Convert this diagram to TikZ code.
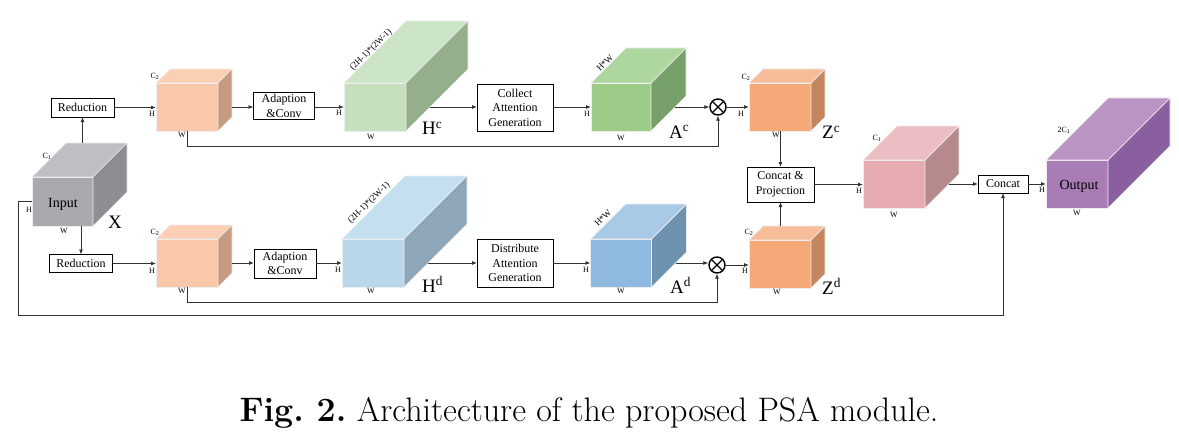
\documentclass[tikz,border=0pt]{standalone}
\usepackage{fontspec}
\newfontfamily\tnr{Liberation Serif}
\usetikzlibrary{arrows.meta,calc}

\definecolor{faceline}{HTML}{EEEEEE}
\definecolor{linegray}{HTML}{333333}
% cube colours: front, top, side
\definecolor{grayf}{HTML}{A9AAAE}\definecolor{grayt}{HTML}{BEBFC3}\definecolor{grays}{HTML}{8D8E92}
\definecolor{peachf}{HTML}{F9C7A9}\definecolor{peacht}{HTML}{FACFB4}\definecolor{peachs}{HTML}{C59C82}
\definecolor{lgreenf}{HTML}{C6E0BF}\definecolor{lgreent}{HTML}{CDE5C7}\definecolor{lgreens}{HTML}{95AE8B}
\definecolor{greenf}{HTML}{9DCB88}\definecolor{greent}{HTML}{AED7A0}\definecolor{greens}{HTML}{78A06B}
\definecolor{orangef}{HTML}{F5A979}\definecolor{oranget}{HTML}{F6BD98}\definecolor{oranges}{HTML}{C4865F}
\definecolor{pinkf}{HTML}{E5ABB1}\definecolor{pinkt}{HTML}{ECBEC3}\definecolor{pinks}{HTML}{B48A8D}
\definecolor{purplef}{HTML}{A97CB5}\definecolor{purplet}{HTML}{BA94C3}\definecolor{purples}{HTML}{8A5FA0}
\definecolor{lbluef}{HTML}{B9D6EB}\definecolor{lbluet}{HTML}{C4DFEF}\definecolor{lblues}{HTML}{8EA6B8}
\definecolor{bluef}{HTML}{8EBADF}\definecolor{bluet}{HTML}{A8CAE6}\definecolor{blues}{HTML}{6C92AF}

% name, centre, width, height, depth, front, top, side
\newcommand{\blockcube}[8]{%
  \node[cubeface, fill=#6, minimum width=#3pt, minimum height=#4pt] (#1) at (#2) {};
  \coordinate (#1-tl) at ($(#1.north west)+(#5,-#5)$);
  \coordinate (#1-tr) at ($(#1.north east)+(#5,-#5)$);
  \coordinate (#1-br) at ($(#1.south east)+(#5,-#5)$);
  \filldraw[cubeedge, fill=#7] (#1.north west) -- (#1-tl) -- (#1-tr) -- (#1.north east) -- cycle;
  \filldraw[cubeedge, fill=#8] (#1.north east) -- (#1-tr) -- (#1-br) -- (#1.south east) -- cycle;
  \pgfmathsetmacro\cubeout{min(#5,#4/2)}%
  \coordinate (#1-out) at ($(#1.east)+(\cubeout,0)$);
}

\begin{document}
\begin{tikzpicture}[x=1pt, y=-1pt,
    cubeface/.style={draw=faceline, line width=0.7pt, inner sep=0pt, outer sep=0pt},
    cubeedge/.style={draw=faceline, line width=0.7pt, line join=round},
    opbox/.style={draw=black, line width=0.8pt, fill=white, inner sep=0pt, outer sep=0pt,
        align=center, font=\tnr\fontsize{12}{14.5}\selectfont},
    arr/.style={draw=linegray, line width=0.8pt, -{Latex[length=5pt, width=4pt]}},
    dimlbl/.style={inner sep=0pt, font=\tnr\fontsize{8}{8}\selectfont},
    slopelbl/.style={inner sep=0pt, rotate=45, font=\tnr\fontsize{9}{9}\selectfont},
    biglbl/.style={inner sep=0pt, anchor=base west, font=\tnr\fontsize{19}{19}\selectfont},
    cubetext/.style={inner sep=0pt, font=\tnr\fontsize{14}{14}\selectfont},
    mult/.style={circle, draw=black, line width=1.4pt, minimum size=16pt, inner sep=0pt,
        path picture={\draw[line width=1.4pt]
            (path picture bounding box.north west) -- (path picture bounding box.south east)
            (path picture bounding box.south west) -- (path picture bounding box.north east);}}]
    \useasboundingbox (0,0) rectangle (1179,444);

    % input
    \blockcube{input}{62.5,201.5}{61}{49}{34}{grayf}{grayt}{grays}
    \node[cubetext] (inputtxt) at (63,204) {Input};
    \node[dimlbl] (inputc) at (47,156) {C\textsubscript{1}};
    \node[dimlbl] (inputh) at (29,210) {H};
    \node[dimlbl] (inputw) at (64,231) {W};
    \node[biglbl] (inputx) at (108,228) {X};

    % upper branch
    \node[opbox, minimum width=63pt, minimum height=19pt] (redup) at (82.5,107.5) {Reduction};
    \blockcube{c2up}{187,107}{62}{48}{14}{peachf}{peacht}{peachs}
    \node[dimlbl] (c2upc) at (155,76) {C\textsubscript{2}};
    \node[dimlbl] (c2uph) at (152,114) {H};
    \node[dimlbl] (c2upw) at (182,135) {W};
    \node[opbox, minimum width=61pt, minimum height=27pt] (adup) at (284,106) {Adaption\\\&Conv};
    \blockcube{hc}{375,107}{62}{48}{62}{lgreenf}{lgreent}{lgreens}
    \node[slopelbl] (hcdim) at (371,50) {(2H-1)*(2W-1)};
    \node[dimlbl] (hch) at (339,113) {H};
    \node[dimlbl] (hcw) at (371,137) {W};
    \node[biglbl] (hclbl) at (422,135) {H\textsuperscript{c}};
    \node[opbox, minimum width=76pt, minimum height=47pt] (collect) at (515,107.5) {Collect\\Attention\\Generation};
    \blockcube{ac}{621,107}{60}{48}{35}{greenf}{greent}{greens}
    \node[slopelbl] (acdim) at (605,63) {H*W};
    \node[dimlbl] (ach) at (587,114) {H};
    \node[dimlbl] (acw) at (621,138) {W};
    \node[biglbl] (aclbl) at (669,138) {A\textsuperscript{c}};
    \node[mult] (mulc) at (718,107) {};
    \blockcube{zc}{780,107}{62}{48}{14}{orangef}{oranget}{oranges}
    \node[dimlbl] (zcc) at (746,77) {C\textsubscript{2}};
    \node[dimlbl] (zch) at (741,114) {H};
    \node[dimlbl] (zcw) at (776,135) {W};
    \node[biglbl] (zclbl) at (822,139) {Z\textsuperscript{c}};

    % lower branch
    \node[opbox, minimum width=63pt, minimum height=18pt] (reddn) at (81,263.5) {Reduction};
    \blockcube{c2dn}{187,263}{62}{48}{14}{peachf}{peacht}{peachs}
    \node[dimlbl] (c2dnc) at (155,232) {C\textsubscript{2}};
    \node[dimlbl] (c2dnh) at (152,271) {H};
    \node[dimlbl] (c2dnw) at (182,291) {W};
    \node[opbox, minimum width=62pt, minimum height=29pt] (addn) at (285,263.5) {Adaption\\\&Conv};
    \blockcube{hd}{373,263}{62}{48}{63}{lbluef}{lbluet}{lblues}
    \node[slopelbl] (hddim) at (369,203) {(2H-1)*(2W-1)};
    \node[dimlbl] (hdh) at (338,270) {H};
    \node[dimlbl] (hdw) at (371,291) {W};
    \node[biglbl] (hdlbl) at (422,292) {H\textsuperscript{d}};
    \node[opbox, minimum width=76pt, minimum height=48pt] (distr) at (515,263) {Distribute\\Attention\\Generation};
    \blockcube{ad}{621,263}{61}{48}{35}{bluef}{bluet}{blues}
    \node[slopelbl] (addim) at (603,218) {H*W};
    \node[dimlbl] (adh) at (586,270) {H};
    \node[dimlbl] (adw) at (621,291) {W};
    \node[biglbl] (adlbl) at (670,293) {A\textsuperscript{d}};
    \node[mult] (muld) at (717,265) {};
    \blockcube{zd}{780,264}{62}{48}{14}{orangef}{oranget}{oranges}
    \node[dimlbl] (zdc) at (749,232) {C\textsubscript{2}};
    \node[dimlbl] (zdh) at (745,271) {H};
    \node[dimlbl] (zdw) at (777,292) {W};
    \node[biglbl] (zdlbl) at (822,294) {Z\textsuperscript{d}};

    % merge
    \node[opbox, minimum width=67pt, minimum height=35pt] (ccproj) at (780.5,184.5) {Concat \&\\Projection};
    \blockcube{pink}{894,184}{62}{48}{34}{pinkf}{pinkt}{pinks}
    \node[dimlbl] (pinkc) at (877,138) {C\textsubscript{1}};
    \node[dimlbl] (pinkh) at (859,191) {H};
    \node[dimlbl] (pinkw) at (894,215) {W};
    \node[opbox, minimum width=50pt, minimum height=18pt] (concat) at (1003,184) {Concat};
    \blockcube{out}{1077,184}{62}{48}{62}{purplef}{purplet}{purples}
    \node[cubetext] (outtxt) at (1079,186) {Output};
    \node[dimlbl] (outc) at (1064,130) {2C\textsubscript{1}};
    \node[dimlbl] (outh) at (1042,190) {H};
    \node[dimlbl] (outw) at (1077,213) {W};

    % connectors
    \draw[arr] (redup.south |- input-tl) -- (redup.south);
    \draw[arr] (reddn.north |- input.south) -- (reddn.north);
    \draw[arr] (redup.east) -- (redup.east -| c2up.west);
    \draw[arr] (reddn.east) -- (reddn.east -| c2dn.west);
    \draw[arr] (c2up-out) -- (c2up-out -| adup.west);
    \draw[arr] (c2dn-out) -- (c2dn-out -| addn.west);
    \draw[arr] (adup.east |- hc.west) -- (hc.west);
    \draw[arr] (addn.east |- hd.west) -- (hd.west);
    \draw[arr] (hc-out) -- (hc-out -| collect.west);
    \draw[arr] (hd-out) -- (hd-out -| distr.west);
    \draw[arr] (collect.east |- ac.west) -- (ac.west);
    \draw[arr] (distr.east |- ad.west) -- (ad.west);
    \draw[arr] (ac-out) -- (ac-out -| mulc.west);
    \draw[arr] (ad-out) -- (ad-out -| muld.west);
    \draw[arr] (mulc.east) -- (mulc.east -| zc.west);
    \draw[arr] (muld.east) -- (muld.east -| zd.west);
    \draw[arr] (c2up.south) -- ++(0,15) -| (mulc.south);
    \draw[arr] (c2dn.south) -- ++(0,15) -| (muld.south);
    \draw[arr] (ccproj.north |- zc.south) -- (ccproj.north);
    \draw[arr] (ccproj.south |- zd-tl) -- (ccproj.south);
    \draw[arr] (ccproj.east) -- (ccproj.east -| pink.west);
    \draw[arr] (pink-out) -- (pink-out -| concat.west);
    \draw[arr] (concat.east) -- (concat.east -| out.west);
    \coordinate (loop) at (18,315);
    \draw[arr] (input.west) -| (loop) -| (concat.south);

    % caption
    \node[font=\fontsize{34}{34}\selectfont] (caption) at (589,413) {\frenchspacing\textbf{Fig.~2.} Architecture of the proposed PSA module.};
\end{tikzpicture}
\end{document}
